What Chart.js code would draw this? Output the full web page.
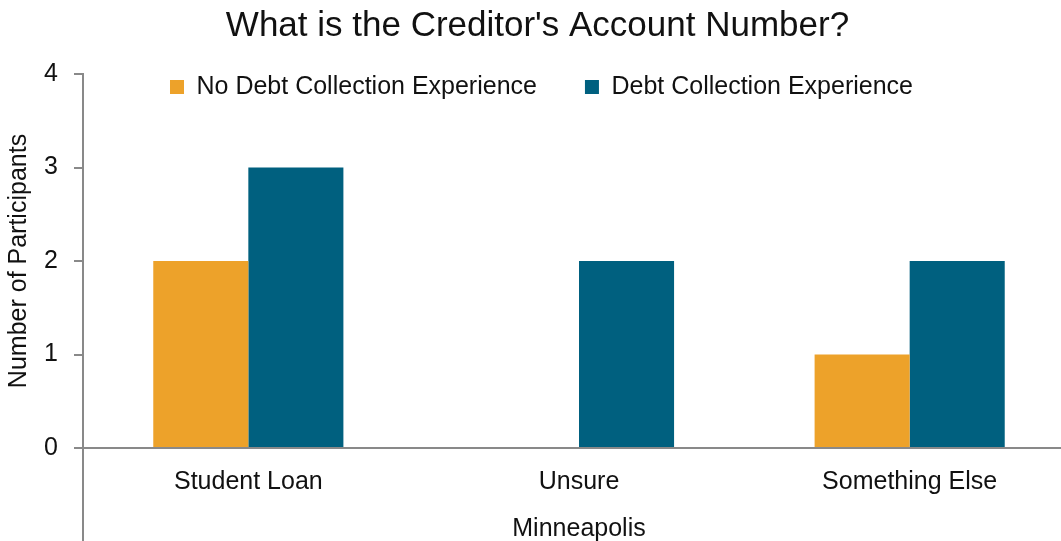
<!DOCTYPE html>
<html lang="en">
<head>
  <meta charset="UTF-8">
  <title>What is the Creditor's Account Number?</title>
  <script src="https://cdn.jsdelivr.net/npm/chart.js"></script>
  <style>
    html, body {
      margin: 0;
      padding: 0;
      overflow: hidden;
      background: #fff;
    }
    /* the original chart is a bit wider than the window and gets cut on the right */
    .chart-container {
      width: 1075px;
      height: 541px;
    }
  </style>
</head>
<body>
  <div class="chart-container"><canvas id="creditorChart"></canvas></div>

  <script>
    // Data
    const categories = ['Student Loan', 'Unsure', 'Something Else'];
    const noDebtExperience = [2, 0, 1];
    const debtExperience = [3, 2, 2];
    const yTicks = [0, 1, 2, 3, 4];

    const axisGray = '#898989';
    const textColor = '#111111';

    Chart.defaults.font.family = '"Liberation Sans", Arial, sans-serif';
    Chart.defaults.font.size = 25;
    Chart.defaults.color = textColor;

    // the legend sits inside the plot (under the top tick), so it takes no room in the layout
    const legendPlacer = {
      id: 'legendPlacer',
      beforeLayout(chart) {
        const lg = chart.legend;
        if (lg && !lg._noHeight) {
          const fit = lg.fit;
          lg.fit = function () {
            fit.call(this);
            this.height = 0;
          };
          lg._noHeight = true;
        }
      },
      beforeDraw(chart) {
        const lg = chart.legend;
        if (!lg) return;
        const pad = lg.options.labels.padding;
        const size = lg.options.labels.font.size;
        lg.left = 4;
        lg.right = chart.width + 4;
        lg.top = 87 - pad - size / 2;
        lg.bottom = lg.top + 2 * pad + size;
      }
    };

    // the vertical axis line runs on down past the category labels
    const axisExtender = {
      id: 'axisExtender',
      afterDraw(chart) {
        const y = chart.scales.y;
        const ctx = chart.ctx;
        ctx.save();
        ctx.strokeStyle = axisGray;
        ctx.lineWidth = 2;
        ctx.beginPath();
        ctx.moveTo(y.right, chart.chartArea.bottom);
        ctx.lineTo(y.right, chart.height);
        ctx.stroke();
        ctx.restore();
      }
    };

    const ctx = document.getElementById('creditorChart').getContext('2d');
    new Chart(ctx, {
      type: 'bar',
      data: {
        labels: categories,
        datasets: [{
          label: 'No Debt Collection Experience',
          data: noDebtExperience,
          backgroundColor: '#EDA22A'
        }, {
          label: 'Debt Collection Experience',
          data: debtExperience,
          backgroundColor: '#00607F'
        }]
      },
      options: {
        responsive: true,
        maintainAspectRatio: false,
        animation: false,
        layout: {
          padding: { left: 0, right: 0, top: 0, bottom: 0 }
        },
        datasets: {
          bar: {
            barPercentage: 1,
            categoryPercentage: 0.575
          }
        },
        plugins: {
          title: {
            display: true,
            text: "What is the Creditor's Account Number?",
            font: { size: 35, weight: 'normal' },
            color: textColor,
            padding: { top: 5, bottom: 27 }
          },
          legend: {
            position: 'top',
            align: 'center',
            labels: {
              boxWidth: 14,
              boxHeight: 14,
              padding: 48,
              font: { size: 25 },
              color: textColor
            }
          },
          tooltip: { enabled: false }
        },
        scales: {
          x: {
            grid: { display: false, drawTicks: false },
            border: { display: true, color: axisGray, width: 2 },
            ticks: { padding: 19, font: { size: 25 }, color: textColor },
            title: {
              display: true,
              text: 'Minneapolis',
              font: { size: 25 },
              color: textColor,
              padding: { top: -2, bottom: -3 }
            }
          },
          y: {
            min: 0,
            max: 4,
            afterFit(scale) { scale.width = 83; },
            afterBuildTicks(scale) {
              scale.ticks = yTicks.map(v => ({ value: v }));
            },
            grid: {
              display: true,
              drawOnChartArea: false,
              drawTicks: true,
              tickLength: 9,
              color: axisGray,
              lineWidth: 2
            },
            border: { display: true, color: axisGray, width: 2 },
            ticks: { padding: 16, font: { size: 25 }, color: textColor },
            title: {
              display: true,
              text: 'Number of Participants',
              font: { size: 25 },
              color: textColor,
              padding: { top: 4, bottom: 0 }
            }
          }
        }
      },
      plugins: [legendPlacer, axisExtender]
    });
  </script>
</body>
</html>
